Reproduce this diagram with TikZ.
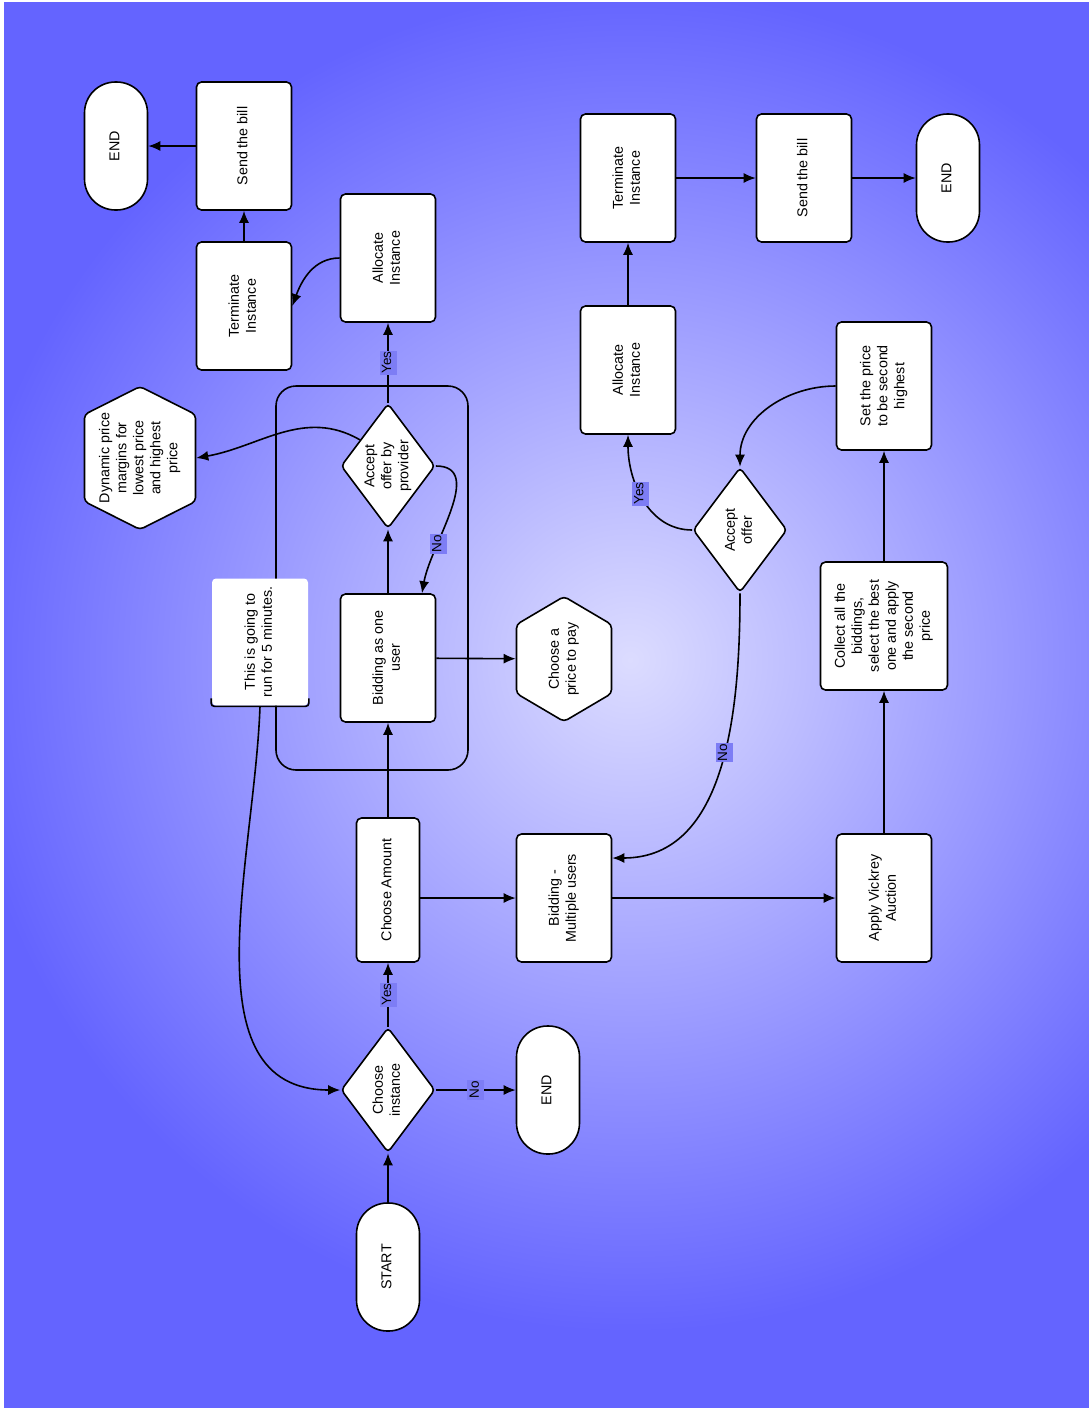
\documentclass[tikz,border=0pt]{standalone}
\usepackage{fontspec}
\setmainfont{Liberation Sans}
\usetikzlibrary{shapes.geometric,arrows.meta}

\definecolor{edgeblue}{RGB}{100,100,255}
\definecolor{glow}{RGB}{220,220,255}
\definecolor{tagblue}{RGB}{125,125,245}
\pgfdeclareradialshading{bgglow}{\pgfpoint{0bp}{0bp}}{color(0bp)=(glow); color(24bp)=(edgeblue); color(50bp)=(edgeblue)}
\newcommand\up[1]{\rotatebox{90}{\begin{tabular}{@{}c@{}}#1\end{tabular}}}
\newcommand\hexagon[4]{\draw[fill=white,rounded corners=4pt] (#1,#2-#4/2) -- (#1+#3/2,#2-#4/2+28) -- (#1+#3/2,#2+#4/2-28) -- (#1,#2+#4/2) -- (#1-#3/2,#2+#4/2-28) -- (#1-#3/2,#2-#4/2+28) -- cycle;}

\begin{document}
\begin{tikzpicture}
  [x=1pt,y=-1pt,line width=1.6pt,
   every node/.style={font=\fontsize{14.3}{17}\selectfont},
   box/.style={draw,fill=white,rounded corners=5pt,inner sep=0pt,minimum width=95pt,minimum height=128pt},
   term/.style={box,rounded corners=31pt,minimum width=63pt},
   choice/.style={diamond,draw,fill=white,rounded corners=4pt,inner sep=0pt,aspect=0.75,minimum width=94pt,minimum height=125pt},
   flow/.style={-{Latex[length=12pt,width=10pt]}},
   tag/.style={fill=tagblue,inner sep=1pt,font=\fontsize{13.5}{15}\selectfont}]
  \useasboundingbox (0,0) rectangle (1089,1409);
  \fill[white] (0,0) rectangle (1089,1409);
  \begin{scope}
    \clip (4,2) rectangle (1089,1408);
    \fill[edgeblue] (4,2) rectangle (1089,1408);
    \shade[shading=bgglow] (630,660) circle (700pt);
  \end{scope}

  \draw[rounded corners=20pt] (276,386) rectangle (468,770);
  \hexagon{140}{458}{111}{143}
  \hexagon{564}{659}{95}{125}

  \node[term] (start) at (388,1267) {\up{START}};
  \node[choice] (ci) at (388,1090) {\up{Choose\\instance}};
  \node[term] (endm) at (548,1090) {\up{END}};
  \node[box,minimum width=63pt,minimum height=144pt] (camt) at (388,890) {\up{Choose Amount}};
  \node[box] (bidm) at (564,898) {\up{Bidding -\\Multiple users}};
  \node[box] (vick) at (884,898) {\up{Apply Vickrey\\Auction}};
  \node[box,minimum width=127pt] (coll) at (884,626) {\up{Collect all the\\biddings,\\select the best\\one and apply\\the second\\price}};
  \node[box] (setp) at (884,386) {\up{Set the price\\to be second\\highest}};
  \node[choice] (acc) at (740,530) {\up{Accept\\offer}};
  \node[box] (allocR) at (628,370) {\up{Allocate\\Instance}};
  \node[box] (termR) at (628,178) {\up{Terminate\\Instance}};
  \node[box] (sendR) at (804,178) {\up{Send the bill}};
  \node[term] (endR) at (948,178) {\up{END}};

  \node[box] (bid1) at (388,658) {\up{Bidding as one\\user}};
  \node[minimum width=95pt,minimum height=125pt,inner sep=0pt] (price) at (564,659) {\up{Choose a\\price to pay}};
  \node[choice] (dp) at (388,466) {\up{Accept\\offer by\\provider}};
  \node[minimum width=111pt,minimum height=143pt,inner sep=0pt] (dyn) at (140,458) {\up{Dynamic price\\margins for\\lowest price\\and highest\\price}};
  \node[box] (allocL) at (388,258) {\up{Allocate\\Instance}};
  \node[box] (termL) at (244,306) {\up{Terminate\\Instance}};
  \node[box] (sendL) at (244,146) {\up{Send the bill}};
  \node[term] (endL) at (116,146) {\up{END}};

  \node[fill=white,rounded corners=4pt,inner sep=0pt,minimum width=96pt,minimum height=127pt] (note) at (260,642) {\up{This is going to\\run for 5 minutes.}};
  \draw[rounded corners=3pt] ([yshift=8pt]note.south west) -- (note.south west) -- (note.south east) -- ([yshift=8pt]note.south east);

  \draw[flow] (start) -- (ci);
  \draw[flow] (ci) -- node[tag]{\up{Yes}} (camt);
  \draw[flow] (ci) -- node[tag]{\up{No}} (endm);
  \draw[flow] (camt) -- (bid1);
  \draw[flow] (camt.east |- bidm) -- (bidm);
  \draw[flow] (bidm) -- (vick);
  \draw[flow] (vick) -- (coll);
  \draw[flow] (coll) -- (setp);
  \draw[flow] (setp.west) to[out=180,in=90] (acc.north);
  \draw[flow] (acc.west) to[out=180,in=-90] node[tag,pos=0.55]{\up{Yes}} (allocR.south);
  \draw[flow] (acc.south) to[out=-90,in=0] node[tag,pos=0.45]{\up{No}} ([yshift=40pt]bidm.east);
  \draw[flow] (allocR) -- (termR);
  \draw[flow] (termR) -- (sendR);
  \draw[flow] (sendR) -- (endR);

  \draw[flow] (bid1) -- (dp);
  \draw[flow] (bid1) -- (price);
  \draw[flow] (dp.east) to[out=0,in=80] node[tag,pos=0.7]{\up{No}} ([xshift=34pt]bid1.north);
  \draw[flow] (dp.137) to[out=150,in=10] (dyn.east);
  \draw[flow] (dp) -- node[tag]{\up{Yes}} (allocL);
  \draw[flow] (allocL.west) to[out=180,in=70] (termL.east);
  \draw[flow] (termL) -- (sendL);
  \draw[flow] (sendL) -- (endL);
  \draw[flow] (note.south) to[out=-92,in=180] (ci.west);
\end{tikzpicture}
\end{document}
